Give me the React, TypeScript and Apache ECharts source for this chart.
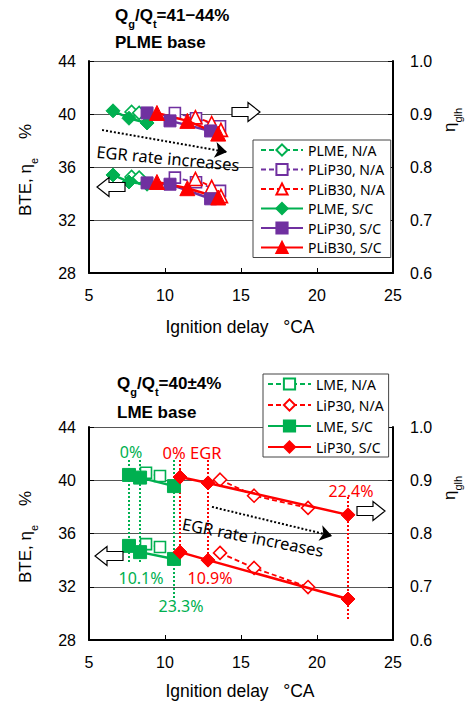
import React, { useEffect, useRef } from 'react';
import * as echarts from 'echarts';

const GREEN = '#00B050';
const PURPLE = '#7030A0';
const RED = '#FF0000';

// ---- Top chart (PLME base) ----
const plmeNA_x = [7.8, 8.3];
const plmeNA_bte = [35.25, 35.2];
const plmeNA_eta = [0.904, 0.902];

const plip30NA_x = [10.65, 12.04, 13.62];
const plip30NA_bte = [35.2, 34.85, 34.2];
const plip30NA_eta = [0.902, 0.892, 0.877];

const plib30NA_x = [12.0, 13.07, 13.68];
const plib30NA_bte = [35.1, 34.5, 33.8];
const plib30NA_eta = [0.894, 0.883, 0.87];

const plmeSC_x = [6.58, 7.63, 8.82];
const plmeSC_bte = [35.4, 34.87, 34.7];
const plmeSC_eta = [0.906, 0.892, 0.883];

const plip30SC_x = [8.82, 10.33, 13.0];
const plip30SC_bte = [34.8, 34.7, 33.6];
const plip30SC_eta = [0.902, 0.887, 0.868];

const plib30SC_x = [9.47, 11.47, 13.5];
const plib30SC_bte = [34.87, 34.4, 33.7];
const plib30SC_eta = [0.902, 0.887, 0.863];

// ---- Bottom chart (LME base) ----
const lmeNA_x = [8.75, 9.67];
const lmeNA_bte = [35.2, 34.99];
const lmeNA_eta = [0.914, 0.908];

const lip30NA_x = [13.62, 15.86, 19.41];
const lip30NA_bte = [34.54, 33.41, 31.98];
const lip30NA_eta = [0.901, 0.871, 0.848];

const lmeSC_x = [7.63, 8.36, 10.59];
const lmeSC_bte = [35.07, 34.6, 34.09];
const lmeSC_eta = [0.91, 0.905, 0.889];

const lip30SC_x = [10.99, 12.83, 22.04];
const lip30SC_bte = [34.6, 34.0, 31.08];
const lip30SC_eta = [0.906, 0.895, 0.835];

const topLegend = ['PLME, N/A', 'PLiP30, N/A', 'PLiB30, N/A', 'PLME, S/C', 'PLiP30, S/C', 'PLiB30, S/C'];
const bottomLegend = ['LME, N/A', 'LiP30, N/A', 'LME, S/C', 'LiP30, S/C'];

const xMin = 5, xMax = 25, xStep = 5;
const bteMin = 28, bteMax = 44, bteStep = 4;
const etaMin = 0.6, etaMax = 1.0, etaStep = 0.1;

const TICK_FONT = 'Liberation Sans';
const LEG_FONT = 'Noto Sans';

type Sty = { color: string; symbol: string; size: number; open: boolean };

function makePair(name: string, g: number, xs: number[], bte: number[], eta: number[], s: Sty, extraBte: any = {}) {
  const common: any = {
    type: 'line',
    name,
    color: s.color,
    xAxisIndex: g,
    symbol: s.symbol,
    symbolSize: s.size,
    silent: true,
    emphasis: { disabled: true },
    z: s.open ? 3 : 5,
    itemStyle: s.open
      ? { color: '#fff', borderColor: s.color, borderWidth: 1.6 }
      : { color: s.color, borderColor: s.color, borderWidth: 1 },
    lineStyle: s.open
      ? { color: s.color, width: 1.8, type: [5, 3] }
      : { color: s.color, width: 2.5, type: 'solid' },
  };
  return [
    { ...common, yAxisIndex: g * 2, data: xs.map((x, i) => [x, bte[i]]), ...extraBte },
    { ...common, yAxisIndex: g * 2 + 1, data: xs.map((x, i) => [x, eta[i]]) },
  ];
}

function vline(x: number, y1: number, y2: number, color: string) {
  return [
    { coord: [x, y1], lineStyle: { color, type: 'dotted', width: 2 } },
    { coord: [x, y2] },
  ];
}

function hollowArrow(cx: number, cy: number, dir: number) {
  const half = 14, bh = 4.5, hh = 9.5, hl = 12;
  const pts = [
    [-half, -bh], [half - hl, -bh], [half - hl, -hh], [half, 0],
    [half - hl, hh], [half - hl, bh], [-half, bh],
  ].map(([px, py]) => [cx + dir * px, cy + py]);
  return {
    type: 'polygon',
    z: 20,
    shape: { points: pts },
    style: { fill: '#fff', stroke: '#000', lineWidth: 1.2 },
  };
}

function txt(x: number, y: number, text: string, color: string, size = 16, extra: any = {}) {
  return {
    type: 'text',
    x, y, z: 20,
    style: {
      text, fill: color, fontSize: size, fontFamily: LEG_FONT,
      align: 'center', verticalAlign: 'middle', ...extra,
    },
  };
}

const titleRich = {
  a: { fontSize: 17, fontWeight: 'bold', fontFamily: TICK_FONT, lineHeight: 22, verticalAlign: 'top', fill: '#000' },
  s: { fontSize: 11, fontWeight: 'bold', fontFamily: TICK_FONT, lineHeight: 11, verticalAlign: 'bottom', fill: '#000' },
};
const labRich = {
  a: { fontSize: 17, fontFamily: TICK_FONT, lineHeight: 22, verticalAlign: 'top', fill: '#000' },
  s: { fontSize: 11, fontFamily: TICK_FONT, lineHeight: 11, verticalAlign: 'bottom', fill: '#000' },
};

function richText(x: number, y: number, text: string, rich: any, align = 'left', rotation = 0) {
  return {
    type: 'text', x, y, z: 20, rotation,
    style: { text, rich, align, verticalAlign: 'middle', fontSize: 17, fontFamily: TICK_FONT },
  };
}

function xAxisOpt(g: number) {
  return {
    type: 'value', gridIndex: g, min: xMin, max: xMax, interval: xStep,
    axisLine: { show: true, lineStyle: { color: '#000', width: 2 } },
    axisTick: { show: true, inside: true, length: 5, lineStyle: { color: '#000', width: 1 } },
    axisLabel: { margin: 14, fontSize: 16, color: '#000', fontFamily: TICK_FONT },
    splitLine: { show: false },
  };
}
function yLeftOpt(g: number) {
  return {
    type: 'value', gridIndex: g, position: 'left', min: bteMin, max: bteMax, interval: bteStep,
    axisLine: { show: true, onZero: false, lineStyle: { color: '#000', width: 2 } },
    axisTick: { show: true, inside: true, length: 5, lineStyle: { color: '#000' } },
    axisLabel: { margin: 13, fontSize: 16, color: '#000', fontFamily: TICK_FONT },
    splitLine: { show: true, lineStyle: { color: '#555', width: 1 } },
  };
}
function yRightOpt(g: number) {
  return {
    type: 'value', gridIndex: g, position: 'right', min: etaMin, max: etaMax, interval: etaStep,
    axisLine: { show: true, onZero: false, lineStyle: { color: '#000', width: 2 } },
    axisTick: { show: true, inside: true, length: 5, lineStyle: { color: '#000' } },
    axisLabel: { margin: 17, fontSize: 16, color: '#000', fontFamily: TICK_FONT, formatter: (v: number) => v.toFixed(1) },
    splitLine: { show: false },
  };
}

export default function App() {
  const ref = useRef<HTMLDivElement>(null);
  useEffect(() => {
    if (!ref.current) return;
    const chart = echarts.init(ref.current, undefined, { renderer: 'svg' });

    const series: any[] = [
      ...makePair('PLME, N/A', 0, plmeNA_x, plmeNA_bte, plmeNA_eta, { color: GREEN, symbol: 'diamond', size: 13, open: true }),
      ...makePair('PLiP30, N/A', 0, plip30NA_x, plip30NA_bte, plip30NA_eta, { color: PURPLE, symbol: 'rect', size: 11, open: true }),
      ...makePair('PLiB30, N/A', 0, plib30NA_x, plib30NA_bte, plib30NA_eta, { color: RED, symbol: 'triangle', size: 13, open: true }),
      ...makePair('PLME, S/C', 0, plmeSC_x, plmeSC_bte, plmeSC_eta, { color: GREEN, symbol: 'diamond', size: 14, open: false }, {
        markLine: {
          silent: true, animation: false, symbol: ['none', 'arrow'], symbolSize: 12,
          label: { show: false },
          lineStyle: { color: '#000', type: 'dotted', width: 2 },
          data: [[{ coord: [5.86, 38.79] }, { coord: [14.08, 37.13] }]],
        },
      }),
      ...makePair('PLiP30, S/C', 0, plip30SC_x, plip30SC_bte, plip30SC_eta, { color: PURPLE, symbol: 'rect', size: 12, open: false }),
      ...makePair('PLiB30, S/C', 0, plib30SC_x, plib30SC_bte, plib30SC_eta, { color: RED, symbol: 'triangle', size: 15, open: false }),

      ...makePair('LME, N/A', 1, lmeNA_x, lmeNA_bte, lmeNA_eta, { color: GREEN, symbol: 'rect', size: 11, open: true }),
      ...makePair('LiP30, N/A', 1, lip30NA_x, lip30NA_bte, lip30NA_eta, { color: RED, symbol: 'diamond', size: 13, open: true }, {
        markLine: {
          silent: true, animation: false, symbol: ['none', 'arrow'], symbolSize: 12,
          label: { show: false },
          lineStyle: { color: '#000', type: 'dotted', width: 2 },
          data: [[{ coord: [13.09, 38.0] }, { coord: [20.99, 35.82] }]],
        },
      }),
      ...makePair('LME, S/C', 1, lmeSC_x, lmeSC_bte, lmeSC_eta, { color: GREEN, symbol: 'rect', size: 13, open: false }, {
        markLine: {
          silent: true, animation: false, symbol: ['none', 'none'],
          label: { show: false },
          data: [
            vline(lmeSC_x[0], 41.53, 33.79, GREEN),
            vline(lmeSC_x[1], 41.53, 33.79, GREEN),
            vline(lmeSC_x[2], 41.53, 31.0, GREEN),
          ],
        },
      }),
      ...makePair('LiP30, S/C', 1, lip30SC_x, lip30SC_bte, lip30SC_eta, { color: RED, symbol: 'diamond', size: 14, open: false }, {
        markLine: {
          silent: true, animation: false, symbol: ['none', 'none'],
          label: { show: false },
          data: [
            vline(lip30SC_x[0], 41.53, 33.64, RED),
            vline(lip30SC_x[1], 41.53, 34.0, RED),
            vline(lip30SC_x[2], 38.75, 29.5, RED),
          ],
        },
      }),
    ];

    const legendCommon = {
      orient: 'vertical', selectedMode: false, itemWidth: 42, itemHeight: 14,
      borderColor: '#444', borderWidth: 1, backgroundColor: '#fff', borderRadius: 0,
      textStyle: { fontFamily: LEG_FONT, fontSize: 14, color: '#000' },
    };

    chart.setOption({
      animation: false,
      grid: [
        { left: 89, top: 61, width: 304, height: 212 },
        { left: 89, top: 427, width: 304, height: 213 },
      ],
      xAxis: [xAxisOpt(0), xAxisOpt(1)],
      yAxis: [yLeftOpt(0), yRightOpt(0), yLeftOpt(1), yRightOpt(1)],
      legend: [
        { ...legendCommon, left: 253, top: 140, itemGap: 5.5, padding: [3, 6, 3, 7], data: topLegend },
        { ...legendCommon, left: 263, top: 374, itemGap: 7, itemWidth: 43, padding: [3, 5, 3, 4], data: bottomLegend },
      ],
      series,
      graphic: [
        richText(115, 18, '{a|Q}{s|g}{a|/Q}{s|t}{a|=41−44%}', titleRich),
        richText(115, 45, '{a|PLME base}', titleRich),
        richText(117, 386, '{a|Q}{s|g}{a|/Q}{s|t}{a|=40±4%}', titleRich),
        richText(117, 415, '{a|LME base}', titleRich),

        richText(28, 170, '{a|BTE, η}{s|e}{a|    %}', labRich, 'center', Math.PI / 2),
        richText(28, 537, '{a|BTE, η}{s|e}{a|    %}', labRich, 'center', Math.PI / 2),
        richText(452, 120, '{a|η}{s|glh}', labRich, 'center', Math.PI / 2),
        richText(452, 488, '{a|η}{s|glh}', labRich, 'center', Math.PI / 2),

        txt(240, 327, 'Ignition delay   °CA', '#000', 17.5, { fontFamily: TICK_FONT }),
        txt(240, 691, 'Ignition delay   °CA', '#000', 17.5, { fontFamily: TICK_FONT }),

        { ...txt(168, 158, 'EGR rate increases', '#000', 16.5), rotation: -0.093 },
        { ...txt(253, 537, 'EGR rate increases', '#000', 16.5), rotation: -0.19 },

        txt(131, 452, '0%', GREEN, 16),
        txt(192, 452, '0% EGR', RED, 16.5),
        txt(351, 491, '22.4%', RED, 16),
        txt(141, 578, '10.1%', GREEN, 16),
        txt(210, 578, '10.9%', RED, 16),
        txt(181, 606, '23.3%', GREEN, 16),

        hollowArrow(246, 112, 1),
        hollowArrow(111, 187, -1),
        hollowArrow(109, 556, -1),
        hollowArrow(371, 511, 1),
      ],
    });
    return () => chart.dispose();
  }, []);
  return <div ref={ref} style={{ position: 'absolute', left: 0, top: 0, width: 470, height: 704 }} />;
}
